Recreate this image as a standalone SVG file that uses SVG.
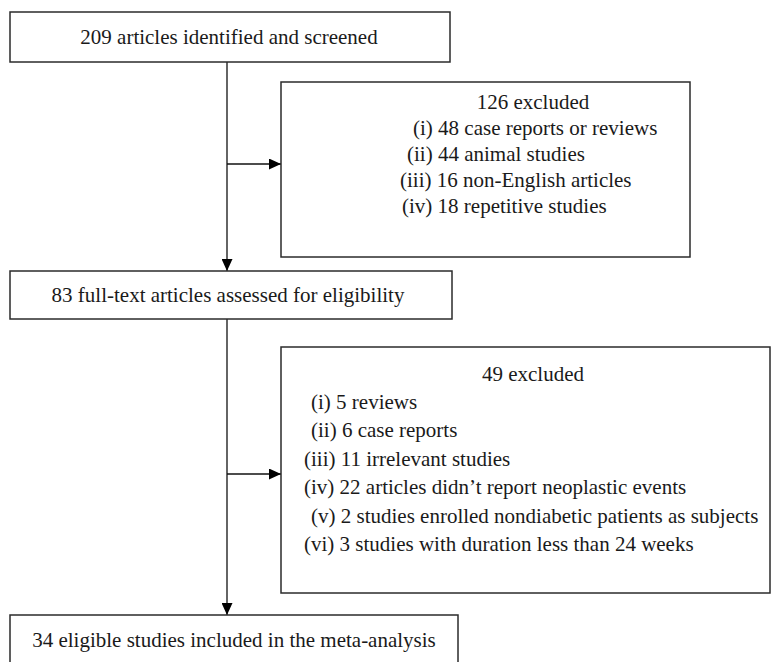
<svg xmlns="http://www.w3.org/2000/svg" width="775" height="662" viewBox="0 0 775 662">
<style>
.box{fill:#fff;stroke:#2b2b2b;stroke-width:1.5}
.t{font-family:"Liberation Serif","Times New Roman",serif;font-size:21px;fill:#1a1a1a}
.c{text-anchor:middle}
.ln{stroke:#111;stroke-width:1.3;fill:none}
</style>
<defs>
<marker id="ah" markerWidth="12" markerHeight="11" refX="12" refY="5.5" orient="auto" markerUnits="userSpaceOnUse">
<polygon points="0,0 12,5.5 0,11" fill="#000"/>
</marker>
</defs>
<rect width="775" height="662" fill="#fff"/>
<g id="connectors">
<line class="ln" x1="227" y1="62" x2="227" y2="271" marker-end="url(#ah)"/>
<line class="ln" x1="227" y1="164" x2="281" y2="164" marker-end="url(#ah)"/>
<line class="ln" x1="227" y1="319" x2="227" y2="615" marker-end="url(#ah)"/>
<line class="ln" x1="227" y1="474" x2="281" y2="474" marker-end="url(#ah)"/>
</g>
<g id="n1">
<rect class="box" x="10" y="12" width="440" height="50"/>
<text class="t c" x="229" y="44">209 articles identified and screened</text>
</g>
<g id="n2">
<rect class="box" x="281" y="82" width="409" height="175"/>
<text class="t c" x="533" y="109">126 excluded</text>
<text class="t" x="413" y="135">(i) 48 case reports or reviews</text>
<text class="t" x="407" y="161">(ii) 44 animal studies</text>
<text class="t" x="400" y="187">(iii) 16 non-English articles</text>
<text class="t" x="402" y="213">(iv) 18 repetitive studies</text>
</g>
<g id="n3">
<rect class="box" x="10" y="271" width="442" height="48"/>
<text class="t c" x="228" y="302">83 full-text articles assessed for eligibility</text>
</g>
<g id="n4">
<rect class="box" x="281" y="347" width="489" height="246"/>
<text class="t c" x="533" y="381">49 excluded</text>
<text class="t" x="311" y="409">(i) 5 reviews</text>
<text class="t" x="311" y="437">(ii) 6 case reports</text>
<text class="t" x="304" y="466">(iii) 11 irrelevant studies</text>
<text class="t" x="304" y="494">(iv) 22 articles didn’t report neoplastic events</text>
<text class="t" x="311" y="523">(v) 2 studies enrolled nondiabetic patients as subjects</text>
<text class="t" x="304" y="551">(vi) 3 studies with duration less than 24 weeks</text>
</g>
<g id="n5">
<rect class="box" x="10" y="615" width="448" height="60"/>
<text class="t c" x="234" y="647">34 eligible studies included in the meta-analysis</text>
</g>
</svg>
